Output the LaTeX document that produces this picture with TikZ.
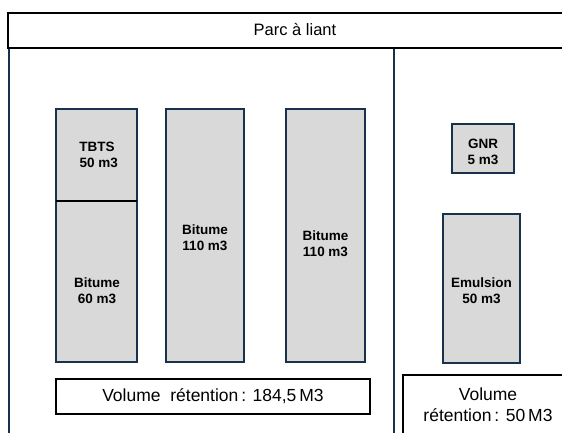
\documentclass[tikz,border=0pt]{standalone}
\usepackage{fontspec}
\setmainfont{Liberation Sans}
\definecolor{navy}{HTML}{17324A}
\definecolor{tankgrey}{HTML}{D9D9D9}
\begin{document}
\begin{tikzpicture}[x=1pt,y=-1pt,
  tank/.style={draw=navy, fill=tankgrey, line width=2pt, inner sep=0pt},
  tanklabel/.style={font=\fontsize{13.5}{16}\selectfont\bfseries, align=center, inner sep=0pt},
  plainbox/.style={draw=black, line width=1.5pt, fill=white, inner sep=0pt},
  boxlabel/.style={font=\fontsize{16.5}{21}\selectfont, align=center, inner sep=0pt},
  retlabel/.style={font=\fontsize{17.5}{21}\selectfont, align=center, inner sep=0pt},
  wall/.style={draw=navy, line width=2pt}]
\useasboundingbox (0,0) rectangle (562,433);
\clip (0,0) rectangle (562,433);
% walls
\coordinate (lwtop) at (9,48);
\coordinate (lwbot) at (9,440);
\coordinate (dvtop) at (394,48);
\coordinate (dvbot) at (394,440);
\draw[wall] (lwtop) -- (lwbot);
\draw[wall] (dvtop) -- (dvbot);
% title box
\node[plainbox, line width=2pt, minimum width=592pt, minimum height=35pt] (title) at (304,30.5) {};
\node[boxlabel] (titletext) at (295,30) {Parc à liant};
% tanks
\node[tank, minimum width=81pt, minimum height=253pt] (tank1) at (96.5,235.5) {};
\coordinate (d1l) at (56,201);
\coordinate (d1r) at (137,201);
\draw[black, line width=2pt] (d1l) -- (d1r);
\node[tanklabel] (t1a) at (97,155) {TBTS\\\ 50 m3};
\node[tanklabel] (t1b) at (97,291) {Bitume\\60 m3};
\node[tank, minimum width=78pt, minimum height=253pt] (tank2) at (205,235.5) {};
\node[tanklabel] (t2) at (205,238) {Bitume\\110 m3};
\node[tank, minimum width=79pt, minimum height=253pt] (tank3) at (325.5,235.5) {};
\node[tanklabel] (t3) at (325.5,244) {Bitume\\110 m3};
\node[tank, minimum width=62pt, minimum height=49pt] (gnr) at (483,148.5) {};
\node[tanklabel] (t4) at (483,152) {GNR\\5 m3};
\node[tank, minimum width=77pt, minimum height=149pt] (emul) at (481.5,288.5) {};
\node[tanklabel] (t5) at (481.5,291) {Emulsion\\50 m3};
% retention boxes
\node[plainbox, minimum width=314pt, minimum height=35pt] (ret1) at (213,396.5) {};
\node[retlabel] (ret1text) at (213,396.5) {Volume~ rétention\,: 184,5\,M3};
\node[plainbox, minimum width=197pt, minimum height=65pt] (ret2) at (501.5,407.5) {};
\node[retlabel] (ret2text) at (488,404.5) {Volume\\rétention\,: 50\,M3};
\end{tikzpicture}
\end{document}
